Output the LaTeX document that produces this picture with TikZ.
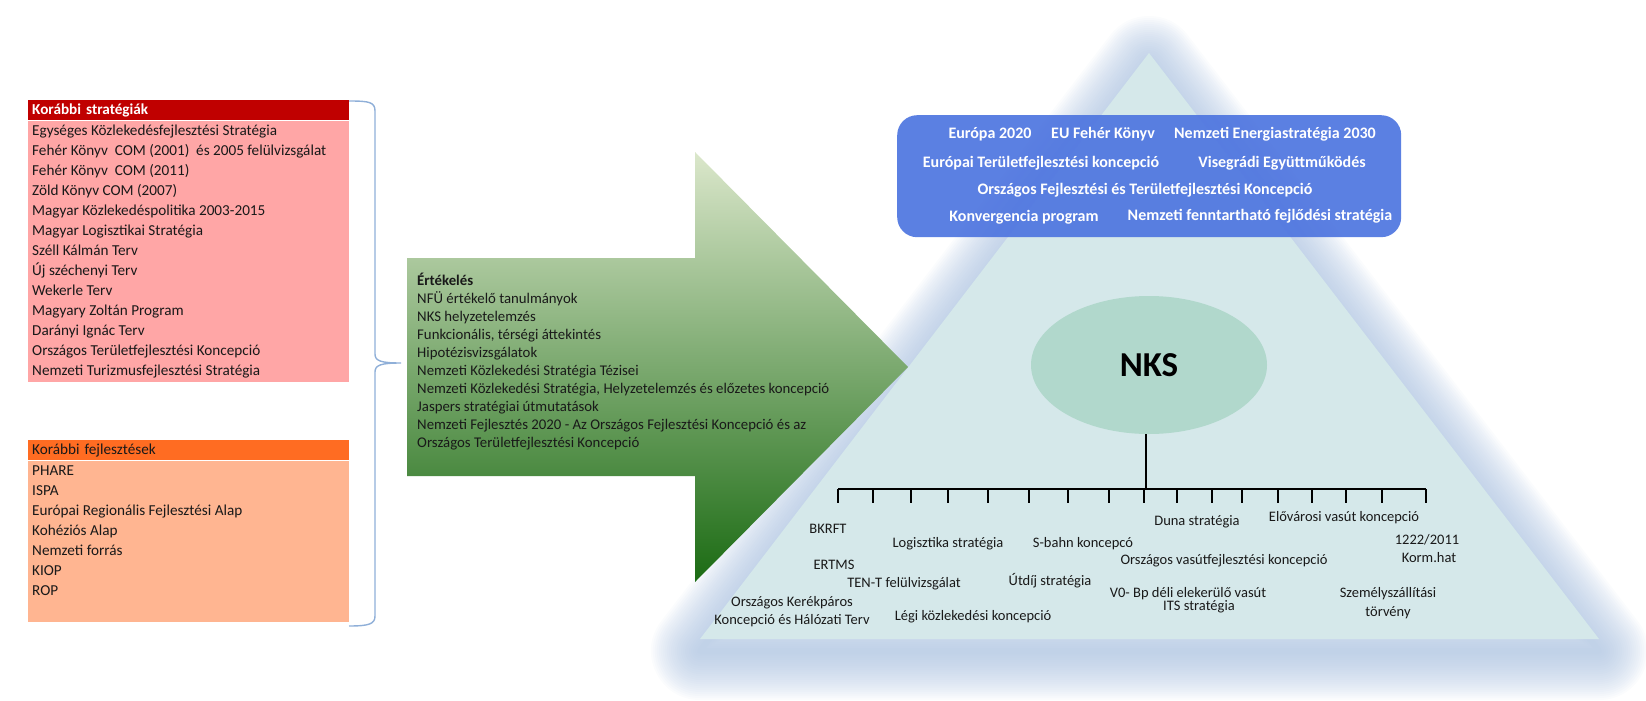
\documentclass[tikz,border=0pt]{standalone}
\usepackage{fontspec}
\setmainfont{Carlito}
\usepackage{tikz}
\usetikzlibrary{shapes.geometric,calc}
\definecolor{stratred}{HTML}{C00000}
\definecolor{stratpink}{HTML}{FFA6A6}
\definecolor{devorange}{HTML}{FF6C22}
\definecolor{devpeach}{HTML}{FFB591}
\definecolor{bracecol}{HTML}{8FAFD8}
\definecolor{trifill}{HTML}{D5E8EA}
\definecolor{glowcol}{HTML}{A9C0DF}
\definecolor{euroblue}{HTML}{4F76E0}
\definecolor{nkscol}{HTML}{B1D8CC}
\definecolor{gtop}{HTML}{DBE7CB}
\definecolor{gmid}{HTML}{9DBB70}
\definecolor{gbot}{HTML}{1B6B13}
\tikzstyle{centered} = [align=center, text centered]
\tikzstyle{row} = [anchor=west, inner sep=0pt, text height=10pt, text depth=3pt, font=\fontsize{15.2}{17}\selectfont, text=black!90]
\tikzset{
  % box styles
  head/.style={anchor=north west, minimum width=321pt, minimum height=20pt, inner xsep=4pt, inner ysep=0pt, text width=313pt},
  listbody/.style={anchor=north west, minimum width=321pt, inner sep=0pt},
  % label styles
  lbl/.style={centered, inner sep=0pt, text height=10pt, text depth=3pt, font=\fontsize{14.5}{18}\selectfont, text=black!90},
  toptxt/.style={centered, inner sep=0pt, text height=10pt, text depth=3pt, text=white, font=\bfseries\fontsize{16}{18}\selectfont},
}

\begin{document}
\begin{tikzpicture}[x=1pt,y=-1pt]
        \useasboundingbox (0,0) rectangle (1646,701);
        % Korabbi strategiak
        \node(SH)[head,fill=stratred,text=white,font=\bfseries\fontsize{15.2}{17}\selectfont] at (28,100) {Korábbi stratégiák};
        \node(SB)[listbody,fill=stratpink,minimum height=261pt] at (SH.south west) {};
        \foreach \t [count=\i] in {Egységes Közlekedésfejlesztési Stratégia,
            Fehér Könyv\ \ COM (2001)\ \ és 2005 felülvizsgálat,
            Fehér Könyv\ \ COM (2011),
            Zöld Könyv COM (2007),
            Magyar Közlekedéspolitika 2003-2015,
            Magyar Logisztikai Stratégia,
            Széll Kálmán Terv,
            Új széchenyi Terv,
            Wekerle Terv,
            Magyary Zoltán Program,
            Darányi Ignác Terv,
            Országos Területfejlesztési Koncepció,
            Nemzeti Turizmusfejlesztési Stratégia}
            \node(S\i)[row] at (32,{111.7+20*\i}) {\t};
        % Korabbi fejlesztesek
        \node(FH)[head,fill=devorange,text=black!90,font=\fontsize{15.2}{17}\selectfont] at (28,440) {Korábbi fejlesztések};
        \node(FB)[listbody,fill=devpeach,minimum height=161pt] at (FH.south west) {};
        \foreach \t [count=\i] in {PHARE,ISPA,Európai Regionális Fejlesztési Alap,Kohéziós Alap,Nemzeti forrás,KIOP,ROP}
            \node(F\i)[row] at (32,{451.7+20*\i}) {\t};
        % brace
        \coordinate(BT) at (349,101);
        \coordinate(BB) at (349,626);
        \coordinate(BTip) at (401,363);
        \draw[bracecol,line width=1.4pt] (BT) .. controls (369,101) and (375,102) .. (375,111) -- (375,354)
            .. controls (375,361) and (381,363) .. (BTip) .. controls (381,363) and (375,365) .. (375,372)
            -- (375,616) .. controls (375,624) and (369,626) .. (BB);
        % triangle with glow
        \coordinate(Apex) at (1149,53);
        \coordinate(BL) at (700,639);
        \coordinate(BR) at (1599,639);
        \foreach \w in {98,94,...,4}
            \draw[glowcol,opacity=0.05,line width=\w pt,line join=round] ([yshift=-12pt]Apex) -- ([yshift=-12pt]BL) -- ([yshift=-12pt]BR) -- cycle;
        \fill[trifill] (Apex) -- (BL) -- (BR) -- cycle;
        % upper box
        \node(EU)[fill=euroblue,fill opacity=0.93,rounded corners=20pt,anchor=north west,minimum width=504pt,minimum height=122pt] at (897,115) {};
        \node(T1)[toptxt] at (990,135) {Európa 2020};
        \node(T2)[toptxt] at (1103,135) {EU Fehér Könyv};
        \node(T3)[toptxt] at (1275,135) {Nemzeti Energiastratégia 2030};
        \node(T4)[toptxt] at (1041,164) {Európai Területfejlesztési koncepció};
        \node(T5)[toptxt] at (1282,164) {Visegrádi Együttműködés};
        \node(T6)[toptxt] at (1145,191) {Országos Fejlesztési és Területfejlesztési Koncepció};
        \node(T7)[toptxt] at (1024,218) {Konvergencia program};
        \node(T8)[toptxt] at (1260,217) {Nemzeti fenntartható fejlődési stratégia};
        % NKS and its bus
        \node(NKS)[ellipse,fill=nkscol,minimum width=236pt,minimum height=138pt,inner sep=0pt,font=\bfseries\fontsize{35}{40}\selectfont] at (1149,365) {NKS};
        \coordinate(stem) at (1146,489);
        \coordinate(busL) at (838,489);
        \coordinate(busR) at (1426,489);
        \draw[line width=1.2pt] (stem |- NKS.south) -- (stem);
        \draw[line width=1.2pt] (busL) -- (busR);
        \foreach \x in {838,873,911,948,988,1029,1068,1109,1144,1177,1212,1242,1278,1312,1346,1382,1426}
            \draw[line width=1.2pt] (\x,489) -- ++(0,14);
        % labels under the bus
        \node(L1)[lbl] at (828,530) {BKRFT};
        \node(L2)[lbl] at (948,544) {Logisztika stratégia};
        \node(L3)[lbl] at (1083,544) {S-bahn koncepcó};
        \node(L4)[lbl] at (834,566) {ERTMS};
        \node(L5)[lbl] at (904,584) {TEN-T felülvizsgálat};
        \node(L6)[lbl] at (1050,582) {Útdíj stratégia};
        \node(L7)[lbl] at (792,603) {Országos Kerékpáros};
        \node(L8)[lbl] at (792,621) {Koncepció és Hálózati Terv};
        \node(L9)[lbl] at (973,617) {Légi közlekedési koncepció};
        \node(L10)[lbl] at (1197,522) {Duna stratégia};
        \node(L11)[lbl] at (1344,518) {Elővárosi vasút koncepció};
        \node(L12)[lbl] at (1427,541) {1222/2011};
        \node(L13)[lbl] at (1429,559) {Korm.hat};
        \node(L14)[lbl] at (1224,561) {Országos vasútfejlesztési koncepció};
        \node(L15)[lbl] at (1188,594) {V0- Bp déli elekerülő vasút};
        \node(L16)[lbl] at (1199,607) {ITS stratégia};
        \node(L17)[lbl] at (1388,594) {Személyszállítási};
        \node(L18)[lbl] at (1388,613) {törvény};
        % green arrow
        \shade[top color=gtop,middle color=gmid,bottom color=gbot] (407,258) -- (695,258) -- (695,152) -- (908,367)
            -- (695,582) -- (695,476) -- (407,476) -- cycle;
        \node(EV)[anchor=north west,align=left,inner sep=0pt,font=\fontsize{14.8}{18}\selectfont,text=black!90] at (417,273)
            {\textbf{Értékelés}\\
             NFÜ értékelő tanulmányok\\
             NKS helyzetelemzés\\
             Funkcionális, térségi áttekintés\\
             Hipotézisvizsgálatok\\
             Nemzeti Közlekedési Stratégia Tézisei\\
             Nemzeti Közlekedési Stratégia, Helyzetelemzés és előzetes koncepció\\
             Jaspers stratégiai útmutatások\\
             Nemzeti Fejlesztés 2020 - Az Országos Fejlesztési Koncepció és az\\
             Országos Területfejlesztési Koncepció};
\end{tikzpicture}
\end{document}
